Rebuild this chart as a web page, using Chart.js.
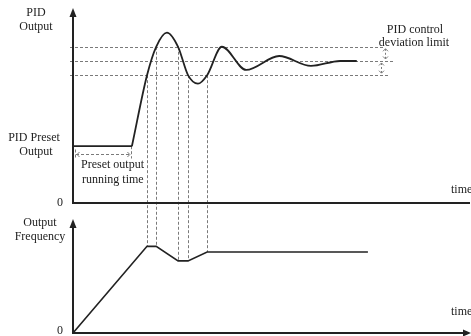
<!DOCTYPE html>
<html><head><meta charset="utf-8">
<script src="https://cdn.jsdelivr.net/npm/chart.js@4/dist/chart.umd.min.js"></script>
<style>html,body{margin:0;padding:0;background:#fff;overflow:hidden}#wrap{width:471px;height:336px;position:relative}canvas{display:block}</style>
</head><body><div id="wrap"><canvas id="c" width="471" height="336"></canvas></div>
<script>
// ---- data ----
const presetTime = [0, 14.8];
const presetOutput = [0.4, 0.4];
const pidTime = [14.8, 18.6, 20.9, 23.6, 26.4, 28.9, 31.4, 33.7, 37.4, 43.5, 51.8, 59.8, 67.1, 71.3];
const pidOutput = [0.4, 0.9, 1.1, 1.2, 1.1, 0.9, 0.84, 0.9, 1.1, 0.937, 1.035, 0.965, 1.0, 1.0];
const freqTime = [0, 18.6, 20.9, 26.4, 28.9, 33.7, 74.1];
const freqValue = [0, 1.07, 1.07, 0.89, 0.89, 1.0, 1.0];
const limitLevels = [1.1, 1.0, 0.9];
const limitEnd = [78.4, 80.7, 79.6];
const markerTimes = [18.6, 20.9, 26.4, 28.9, 33.7];
const deviationArrowTimes = [78.4, 77.4];
const labelsTop = ["PID", "Output"];
const labelsPreset = ["PID Preset", "Output"];
const labelsFreq = ["Output", "Frequency"];
const labelsRun = ["Preset output", "running time"];
const labelsLimit = ["PID control", "deviation limit"];
const timeLabel = "time";
const zeroLabel = "0";

const FONT = "12px 'Liberation Serif', 'DejaVu Serif', serif";
const TXT = '#222';
const DASH = '#7a7a7a';

function chevron(ctx, x, y, dir, s) {
  // dir: 'up','down','left','right'
  ctx.beginPath();
  if (dir === 'up') { ctx.moveTo(x - s, y + s); ctx.lineTo(x, y); ctx.lineTo(x + s, y + s); }
  if (dir === 'down') { ctx.moveTo(x - s, y - s); ctx.lineTo(x, y); ctx.lineTo(x + s, y - s); }
  if (dir === 'left') { ctx.moveTo(x + s, y - s); ctx.lineTo(x, y); ctx.lineTo(x + s, y + s); }
  if (dir === 'right') { ctx.moveTo(x - s, y - s); ctx.lineTo(x, y); ctx.lineTo(x - s, y + s); }
  ctx.stroke();
}

const deco = {
  id: 'deco',
  beforeDatasetsDraw(chart) {
    const ctx = chart.ctx;
    const sx = chart.scales.x, st = chart.scales.yTop, sb = chart.scales.yBot;
    const X = v => sx.getPixelForValue(v), YT = v => st.getPixelForValue(v), YB = v => sb.getPixelForValue(v);
    ctx.save();
    ctx.strokeStyle = DASH; ctx.lineWidth = 1; ctx.setLineDash([3, 2]);
    // deviation limit lines
    limitLevels.forEach((lv, i) => {
      const y = Math.round(YT(lv)) + 0.5;
      ctx.beginPath(); ctx.moveTo(X(0) - 3, y); ctx.lineTo(X(limitEnd[i]), y); ctx.stroke();
    });
    // vertical markers from PID output to output frequency
    markerTimes.forEach(t => {
      const x = Math.round(X(t)) + 0.5;
      const y1 = YT(pidOutput[pidTime.indexOf(t)]);
      const y2 = YB(freqValue[freqTime.indexOf(t)]);
      ctx.beginPath(); ctx.moveTo(x, y1); ctx.lineTo(x, y2); ctx.stroke();
    });
    // preset running time double arrow
    const ya = Math.round(YT(presetOutput[0])) + 8.5;
    const xl = X(presetTime[0]) + 3, xr = X(presetTime[1]) - 1;
    ctx.beginPath(); ctx.moveTo(xl, ya); ctx.lineTo(xr, ya); ctx.stroke();
    ctx.beginPath(); ctx.moveTo(xl - 0.5, ya - 5); ctx.lineTo(xl - 0.5, ya + 4); ctx.stroke();
    ctx.beginPath(); ctx.moveTo(Math.round(xr) + 0.5, YT(presetOutput[1])); ctx.lineTo(Math.round(xr) + 0.5, ya + 4); ctx.stroke();
    ctx.setLineDash([]);
    chevron(ctx, xl + 1, ya, 'left', 2.5);
    chevron(ctx, xr - 1, ya, 'right', 2.5);
    // deviation double arrows
    ctx.setLineDash([2, 2]);
    [[limitLevels[0], limitLevels[1]], [limitLevels[1], limitLevels[2]]].forEach((pair, i) => {
      const x = Math.round(X(deviationArrowTimes[i])) + 0.5;
      const ya1 = YT(pair[0]) + 2, ya2 = YT(pair[1]) - 2;
      ctx.setLineDash([2, 2]);
      ctx.beginPath(); ctx.moveTo(x, ya1); ctx.lineTo(x, ya2); ctx.stroke();
      ctx.setLineDash([]);
      chevron(ctx, x, ya1, 'up', 2.5);
      chevron(ctx, x, ya2, 'down', 2.5);
    });
    ctx.restore();
  },
  afterDatasetsDraw(chart) {
    const ctx = chart.ctx;
    const ca = chart.chartArea;
    const sx = chart.scales.x, st = chart.scales.yTop, sb = chart.scales.yBot;
    const X = v => sx.getPixelForValue(v), YT = v => st.getPixelForValue(v), YB = v => sb.getPixelForValue(v);
    ctx.save();
    ctx.strokeStyle = '#222'; ctx.fillStyle = '#222'; ctx.lineWidth = 2; ctx.setLineDash([]);
    const x0 = Math.round(X(0));
    // top axes
    const yt0 = Math.round(YT(0));
    ctx.beginPath(); ctx.moveTo(x0, yt0); ctx.lineTo(x0, st.top + 6); ctx.stroke();
    ctx.beginPath(); ctx.moveTo(x0 - 1, yt0); ctx.lineTo(ca.right - 1, yt0); ctx.stroke();
    ctx.beginPath(); ctx.moveTo(x0, st.top); ctx.lineTo(x0 - 3.5, st.top + 9); ctx.lineTo(x0 + 3.5, st.top + 9); ctx.closePath(); ctx.fill();
    // bottom axes
    const yb0 = Math.round(YB(0));
    const tipB = YB(1.407);
    ctx.beginPath(); ctx.moveTo(x0, yb0); ctx.lineTo(x0, tipB + 6); ctx.stroke();
    ctx.beginPath(); ctx.moveTo(x0 - 1, yb0); ctx.lineTo(ca.right - 6, yb0); ctx.stroke();
    ctx.beginPath(); ctx.moveTo(x0, tipB); ctx.lineTo(x0 - 3.5, tipB + 9); ctx.lineTo(x0 + 3.5, tipB + 9); ctx.closePath(); ctx.fill();
    ctx.beginPath(); ctx.moveTo(ca.right, yb0); ctx.lineTo(ca.right - 8, yb0 - 3.5); ctx.lineTo(ca.right - 8, yb0 + 3.5); ctx.closePath(); ctx.fill();
    // texts
    ctx.font = FONT; ctx.fillStyle = TXT; ctx.textBaseline = 'middle'; ctx.textAlign = 'center';
    ctx.fillText(labelsTop[0], 36, st.top + 5);
    ctx.fillText(labelsTop[1], 36, st.top + 19);
    const yp = YT(presetOutput[0]);
    ctx.fillText(labelsPreset[0], 34, yp - 8);
    ctx.fillText(labelsPreset[1], 36, yp + 6);
    ctx.fillText(labelsFreq[0], 40, tipB + 4);
    ctx.fillText(labelsFreq[1], 40, tipB + 18);
    ctx.fillText(labelsLimit[0], 415, YT(limitLevels[0]) - 17);
    ctx.fillText(labelsLimit[1], 414, YT(limitLevels[0]) - 4);
    ctx.textAlign = 'left';
    ctx.fillText(labelsRun[0], X(0) + 8, yp + 19);
    ctx.fillText(labelsRun[1], X(0) + 9, yp + 34);
    ctx.fillText(timeLabel, 451, yt0 - 13);
    ctx.fillText(timeLabel, 451, yb0 - 21);
    ctx.textAlign = 'center';
    ctx.fillText(zeroLabel, 60, yt0);
    ctx.fillText(zeroLabel, 60, yb0 - 2);
    ctx.restore();
  }
};

new Chart(document.getElementById('c'), {
  type: 'line',
  data: {
    datasets: [
      { data: presetTime.map((t, i) => ({ x: t, y: presetOutput[i] })), yAxisID: 'yTop', borderColor: '#222', borderWidth: 1.8, pointRadius: 0, tension: 0, fill: false },
      { data: pidTime.map((t, i) => ({ x: t, y: pidOutput[i] })), yAxisID: 'yTop', borderColor: '#222', borderWidth: 1.8, pointRadius: 0, cubicInterpolationMode: 'monotone', fill: false },
      { data: freqTime.map((t, i) => ({ x: t, y: freqValue[i] })), yAxisID: 'yBot', borderColor: '#222', borderWidth: 1.6, pointRadius: 0, tension: 0, fill: false }
    ]
  },
  options: {
    responsive: false, animation: false, devicePixelRatio: 1,
    layout: { padding: { left: 73, right: 0, top: 8, bottom: 3 } },
    plugins: { legend: { display: false }, tooltip: { enabled: false } },
    scales: {
      x: { type: 'linear', min: 0, max: 100, display: false },
      yTop: { type: 'linear', position: 'left', min: 0, max: 1.373, display: false, stack: 'v', stackWeight: 195, weight: 1 },
      yBot: { type: 'linear', position: 'left', min: 0, max: 1.605, display: false, stack: 'v', stackWeight: 130, weight: 0 }
    }
  },
  plugins: [deco]
});
</script></body></html>
